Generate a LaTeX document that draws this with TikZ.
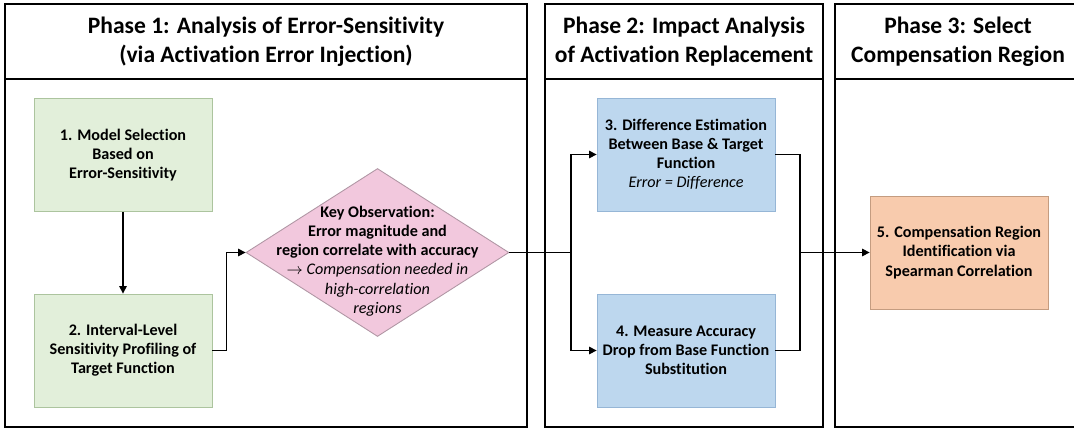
\documentclass[tikz,border=0pt]{standalone}
\usepackage{fontspec}
\setmainfont{Carlito}[Ligatures=NoCommon]
\usepackage{tikz}
\usetikzlibrary{arrows.meta,shapes.geometric}
\definecolor{stepG}{RGB}{226,239,218}
\definecolor{stepGb}{RGB}{172,196,158}
\definecolor{stepB}{RGB}{189,215,238}
\definecolor{stepBb}{RGB}{150,182,214}
\definecolor{stepO}{RGB}{248,203,173}
\definecolor{stepOb}{RGB}{196,156,128}
\definecolor{obsP}{RGB}{242,200,221}
\definecolor{obsPb}{RGB}{176,150,164}

\begin{document}
\begin{tikzpicture}[x=0.02cm,y=-0.02cm,
  phase/.style={black,line width=1.1pt},
  title/.style={font=\bfseries\fontsize{13.4}{16.4}\selectfont,align=center},
  stepbox/.style={draw=#1b,fill=#1,line width=0.5pt,inner sep=0pt,align=center,
    minimum width=3.56cm,minimum height=2.26cm,
    font=\bfseries\fontsize{9.2}{10.9}\selectfont},
  link/.style={black,line width=0.75pt},
  arr/.style={link,-{Triangle[length=4.2pt,width=4.2pt]}}]
 \useasboundingbox (0,0) rectangle (1074,429);
 % phase frames with their headers
 \foreach \i/\xa/\xb/\xc/\name in {
   1/5/527/266/{Phase 1: Analysis of Error-Sensitivity\\(via Activation Error Injection)},
   2/545/823/684/{Phase 2: Impact Analysis\\of Activation Replacement},
   3/835/1080/958/{Phase 3: Select\\Compensation Region}}{
  \draw[phase] (\xa,4) rectangle (\xb,427);
  \draw[phase] (\xa,79) -- (\xb,79);
  \node[title] (ph\i) at (\xc,41.5) {\name};
 }
 % steps
 \node[stepbox=stepG] (m1) at (123,155)
   {1. Model Selection\\Based on\\Error-Sensitivity};
 \node[stepbox=stepG] (m2) at (123,350.5)
   {2. Interval-Level\\Sensitivity Profiling of\\Target Function};
 \node[stepbox=stepB] (d3) at (686,154.5)
   {3. Difference Estimation\\Between Base \& Target\\Function\\
    {\normalfont\itshape Error = Difference}};
 \node[stepbox=stepB] (d4) at (686,350.5)
   {4. Measure Accuracy\\Drop from Base Function\\Substitution};
 \node[stepbox=stepO] (sp) at (959,252.5)
   {5. Compensation Region\\Identification via\\Spearman Correlation};
 % key observation
 \node[diamond,draw=obsPb,fill=obsP,line width=0.5pt,minimum width=5.26cm,
   minimum height=3.36cm,inner sep=0pt] (obs) at (377.5,252.5) {};
 \node[align=center,font=\bfseries\fontsize{9.2}{10.9}\selectfont] (obstxt) at (377.5,261)
   {Key Observation:\\Error magnitude and\\region correlate with accuracy\\
    {\normalfont$\rightarrow$ \itshape Compensation needed in}\\
    {\normalfont\itshape high-correlation}\\{\normalfont\itshape regions}};
 % connectors
 \coordinate (split) at (571,252.5);
 \coordinate (join) at (800,252.5);
 \draw[arr] (m1) -- (m2);
 \draw[arr] (m2.east) -- ++(14,0) |- (obs.west);
 \draw[link] (obs.east) -- (split);
 \draw[arr] (split) |- (d3.west);
 \draw[arr] (split) |- (d4.west);
 \draw[link] (d3.east) -| (join);
 \draw[link] (d4.east) -| (join);
 \draw[arr] (join) -- (sp.west);
\end{tikzpicture}
\end{document}
